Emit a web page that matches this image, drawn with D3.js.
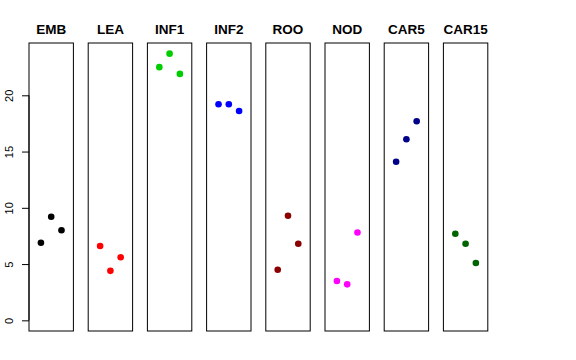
<!DOCTYPE html>
<html>
<head>
<meta charset="utf-8">
<script src="https://cdn.jsdelivr.net/npm/d3@7"></script>
<style>
  html, body { margin: 0; padding: 0; background: #fff; }
  svg { display: block; }
</style>
</head>
<body>
<svg id="chart" width="576" height="360"></svg>
<script>
const categories = ["EMB", "LEA", "INF1", "INF2", "ROO", "NOD", "CAR5", "CAR15"];
const replicates = [1, 2, 3];
const valuesEMB   = [6.9, 9.2, 8.0];
const valuesLEA   = [6.6, 4.4, 5.6];
const valuesINF1  = [22.5, 23.7, 21.9];
const valuesINF2  = [19.2, 19.2, 18.6];
const valuesROO   = [4.5, 9.3, 6.8];
const valuesNOD   = [3.5, 3.2, 7.8];
const valuesCAR5  = [14.1, 16.1, 17.7];
const valuesCAR15 = [7.7, 6.8, 5.1];
const colors = ["#000000", "#FF0000", "#00CD00", "#0000FF", "#8B0000", "#FF00FF", "#00008B", "#006400"];
const yTicks = [0, 5, 10, 15, 20];

const series = [valuesEMB, valuesLEA, valuesINF1, valuesINF2, valuesROO, valuesNOD, valuesCAR5, valuesCAR15];
const data = categories.map((c, i) => ({ cat: c, color: colors[i], values: series[i] }));

const svg = d3.select("#chart");
const plotTop = 43, plotBottom = 331;

const yMin = 0, yMax = d3.max(series.flat());
const ext = (yMax - yMin) * 0.04;
const y = d3.scaleLinear().domain([yMin - ext, yMax + ext]).range([plotBottom, plotTop]);

const band = d3.scaleBand().domain(categories).range([29, 487.8]).paddingInner(0.25);
const bw = band.bandwidth();
const x = d3.scaleLinear().domain([0 - 0.16, 4 + 0.16]).range([0, bw]);

const panels = svg.selectAll("g.panel").data(data).join("g")
  .attr("class", "panel")
  .attr("transform", d => `translate(${band(d.cat)},0)`);

panels.append("rect")
  .attr("x", 0).attr("y", plotTop)
  .attr("width", bw).attr("height", plotBottom - plotTop)
  .attr("fill", "none").attr("stroke", "#000").attr("stroke-width", 1);

panels.append("text")
  .attr("x", bw / 2).attr("y", 33.7)
  .attr("text-anchor", "middle")
  .attr("font-family", "Liberation Sans, Arial, sans-serif")
  .attr("font-weight", "bold")
  .attr("font-size", 13.5)
  .text(d => d.cat);

panels.selectAll("circle").data(d => d.values.map((v, j) => ({ v, j, color: d.color }))).join("circle")
  .attr("cx", d => x(replicates[d.j]))
  .attr("cy", d => y(d.v))
  .attr("r", 3.3)
  .attr("fill", d => d.color);

const axis = d3.axisLeft(y).tickValues(yTicks).tickSize(7).tickSizeOuter(0).tickFormat(d3.format("d"));
const ag = svg.append("g").attr("transform", `translate(${band(categories[0])},0)`).call(axis);
ag.select(".domain").remove();
ag.append("line").attr("x1", 0).attr("x2", 0).attr("y1", y(0)).attr("y2", y(20)).attr("stroke", "#000");
ag.selectAll(".tick line").attr("stroke", "#000");
ag.selectAll(".tick text")
  .attr("font-family", "Liberation Sans, Arial, sans-serif")
  .attr("font-size", 11)
  .attr("fill", "#000")
  .attr("text-anchor", "middle")
  .attr("dy", null)
  .attr("x", null)
  .attr("transform", "translate(-16.5,0) rotate(-90)");
</script>
</body>
</html>
